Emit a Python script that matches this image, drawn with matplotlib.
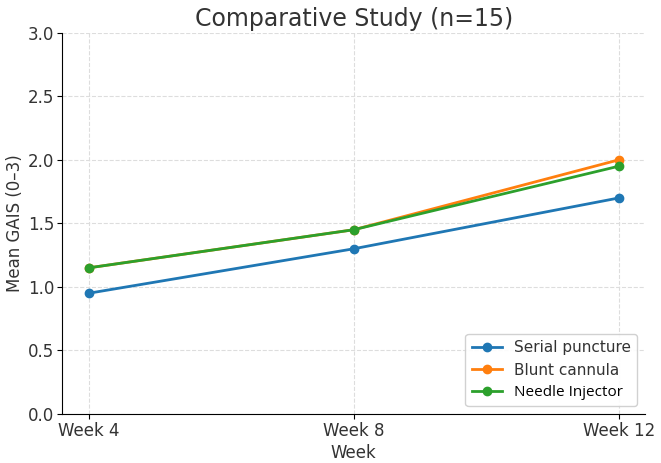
import matplotlib
matplotlib.use("Agg")
import matplotlib.pyplot as plt

weeks = ["Week 4", "Week 8", "Week 12"]
serial = [0.95, 1.30, 1.70]
blunt = [1.15, 1.45, 2.00]
needle = [1.15, 1.45, 1.95]

fig = plt.figure(figsize=(6.61, 4.63), dpi=100)
ax = fig.add_axes([0.094, 0.106, 0.882, 0.823])

ax.plot(weeks, serial, marker="o", color="#1f77b4", linewidth=2, markersize=6, label="Serial puncture")
ax.plot(weeks, blunt, marker="o", color="#ff7f0e", linewidth=2, markersize=6, label="Blunt cannula")
ax.plot(weeks, needle, marker="o", color="#2ca02c", linewidth=2, markersize=6, label="Needle Injector")

ax.set_ylim(0, 3.0)
ax.set_yticks([0.0, 0.5, 1.0, 1.5, 2.0, 2.5, 3.0])
ax.set_title("Comparative Study (n=15)", fontsize=17, color="#333333", pad=5)
ax.set_xlabel("Week", fontsize=12, color="#333333", labelpad=3)
ax.set_ylabel("Mean GAIS (0–3)", fontsize=12, color="#333333", labelpad=3)
ax.tick_params(labelsize=12, labelcolor="#333333", pad=2)
ax.grid(True, linestyle="--", color="#dddddd", linewidth=0.8)
ax.spines["top"].set_visible(False)
ax.spines["right"].set_visible(False)

leg = ax.legend(loc="lower right", fontsize=11, framealpha=0.9, edgecolor="#cccccc")
for t in leg.get_texts():
    t.set_color("#333333")
leg.get_texts()[2].set_fontfamily("Open Sans")
leg.get_texts()[2].set_color("black")

fig.savefig("out.png", dpi=100)
